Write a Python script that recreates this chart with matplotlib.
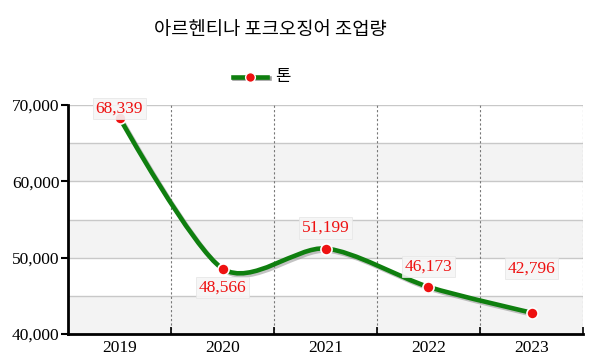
import matplotlib
matplotlib.use("Agg")
import matplotlib.pyplot as plt
from matplotlib.path import Path
from matplotlib.patches import PathPatch
import matplotlib.patheffects as pe

years = ["2019", "2020", "2021", "2022", "2023"]
tons = [68339, 48566, 51199, 46173, 42796]
label_offsets = [1, -8, 9, 9, 26]  # points, label above (+) or below (-) marker

title = "아르헨티나 포크오징어 조업량"
series_name = "톤"

GREEN = "#0f7f0f"
RED = "#ee1111"


def spline_path(xs, ys, k=0.14):
    # cardinal spline drawn as cubic bezier segments
    n = len(xs)
    tang = []
    for i in range(n):
        if i == 0 or i == n - 1:
            tang.append((0.0, 0.0))
        else:
            tang.append(((xs[i + 1] - xs[i - 1]) * k, (ys[i + 1] - ys[i - 1]) * k))
    verts = [(xs[0], ys[0])]
    codes = [Path.MOVETO]
    for i in range(1, n):
        verts += [(xs[i - 1] + tang[i - 1][0], ys[i - 1] + tang[i - 1][1]),
                  (xs[i] - tang[i][0], ys[i] - tang[i][1]),
                  (xs[i], ys[i])]
        codes += [Path.CURVE4] * 3
    return Path(verts, codes)


fig = plt.figure(figsize=(6, 3.6), dpi=100)
ax = fig.add_axes([68 / 600, 1 - 334 / 360, 515 / 600, 229 / 360])

ax.set_xlim(-0.5, len(years) - 0.5)
ax.set_ylim(40000, 70000)

# alternating bands
for lo in range(40000, 70000, 10000):
    ax.axhspan(lo, lo + 5000, color="#f3f3f3", zorder=0, lw=0)
for y in range(45000, 70001, 5000):
    ax.axhline(y, color="#c8c8c8", lw=1, zorder=1)
for i in range(len(years)):
    ax.axvline(i + 0.5, color="#777777", lw=0.8, ls=(0, (2, 2)), zorder=1)

xs = list(range(len(years)))
path = spline_path(xs, tons)
line = PathPatch(path, fill=False, edgecolor=GREEN, lw=3.3, capstyle="round",
                 zorder=3, transform=ax.transData)
line.set_path_effects([pe.SimpleLineShadow(offset=(1.5, -1.5), shadow_color="#888888", alpha=0.5),
                       pe.Normal()])
ax.add_patch(line)
ax.plot(xs, tons, ls="none", marker="o", ms=8, mfc=RED, mec="white", mew=1.2, zorder=4)

for x, v, off in zip(xs, tons, label_offsets):
    va = "bottom" if off >= 0 else "top"
    ax.annotate(f"{v:,}", (x, v), xytext=(0, off), textcoords="offset points",
                ha="center", va=va, color=RED, fontsize=12.5, family="Liberation Serif",
                bbox=dict(boxstyle="square,pad=0.15", fc="#f6f6f6", ec="#e6e6e6", lw=0.6,
                          alpha=0.9),
                zorder=5)

ax.set_yticks(range(40000, 70001, 10000))
ax.set_yticklabels([f"{t:,}" for t in range(40000, 70001, 10000)],
                   family="Liberation Serif", fontsize=12.5)
ax.set_xticks(xs)
ax.set_xticklabels(years, family="Liberation Serif", fontsize=12.5)
ax.tick_params(axis="x", length=0, pad=4)
ax.set_xticks([i + 0.5 for i in range(len(years))], minor=True)
ax.tick_params(axis="x", which="minor", direction="in", length=5, width=1.2, color="black")
ax.tick_params(axis="y", direction="out", length=5, width=1.5, pad=1)

for s in ["top", "right"]:
    ax.spines[s].set_visible(False)
for s in ["left", "bottom"]:
    ax.spines[s].set_linewidth(2)
    ax.spines[s].set_color("black")

fig.text(0.45, 1 - 29 / 360, title, ha="center", va="center", fontsize=13.5,
         family="Noto Sans CJK KR")

# legend
lx, ly = 250 / 600, 1 - 77 / 360
fig.lines.append(plt.Line2D([lx - 0.029, lx + 0.029], [ly, ly], transform=fig.transFigure,
                            color=GREEN, lw=3.3,
                            path_effects=[pe.SimpleLineShadow(offset=(1, -1), alpha=0.4), pe.Normal()]))
fig.lines.append(plt.Line2D([lx], [ly], transform=fig.transFigure, ls="none", marker="o",
                            ms=7, mfc=RED, mec="white", mew=1))
fig.text(275 / 600, ly, series_name, ha="left", va="center", fontsize=12,
         family="Noto Sans CJK KR")

fig.savefig("out.png", dpi=100, facecolor="white")
